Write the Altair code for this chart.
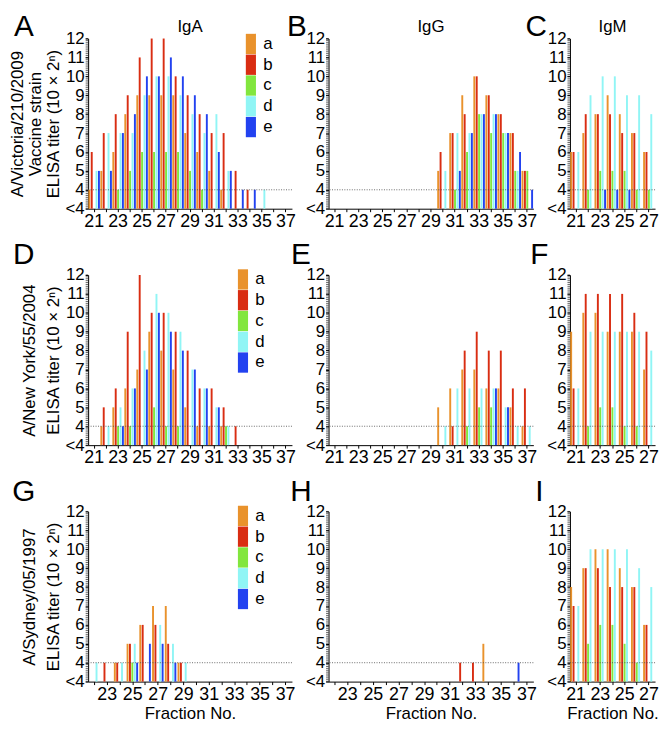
import altair as alt
import pandas as pd

SERIES = ["a", "b", "c", "d", "e"]
COLORS = ["#E9922C", "#D92D12", "#82E63E", "#90F5F5", "#2242F0"]

FRACTIONS_FULL = list(range(21, 38))
FRACTIONS_G = list(range(22, 38))
FRACTIONS_M = list(range(21, 28))

# values are log2 titer exponents; 3 stands for "<4"
# Panel A: IgA, A/Victoria/210/2009 (fractions 21-37)
PANEL_A = {
    "a": [4, 5, 6, 8, 9, 9, 9, 9, 7, 6, 5, 4, 3, 3, 3, 3, 3],
    "b": [6, 7, 8, 9, 11, 12, 12, 10, 9, 8, 7, 7, 5, 4, 3, 3, 3],
    "c": [3, 3, 4, 5, 6, 6, 6, 6, 5, 4, 3, 3, 3, 3, 3, 3, 3],
    "d": [5, 7, 7, 7, 9, 10, 10, 9, 8, 7, 8, 5, 3, 3, 4, 3, 3],
    "e": [5, 5, 7, 8, 10, 10, 11, 10, 9, 8, 6, 5, 4, 4, 3, 3, 3],
}
# Panel B: IgG, A/Victoria/210/2009 (fractions 21-37)
PANEL_B = {
    "a": [3, 3, 3, 3, 3, 3, 3, 3, 3, 5, 7, 9, 10, 9, 8, 7, 5],
    "b": [3, 3, 3, 3, 3, 3, 3, 3, 3, 6, 7, 8, 10, 9, 8, 7, 5],
    "c": [3, 3, 3, 3, 3, 3, 3, 3, 3, 3, 4, 6, 8, 7, 7, 5, 5],
    "d": [3, 3, 3, 3, 3, 3, 3, 3, 3, 5, 7, 7, 8, 8, 7, 5, 3],
    "e": [3, 3, 3, 3, 3, 3, 3, 3, 3, 3, 5, 7, 8, 8, 7, 6, 4],
}
# Panel C: IgM, A/Victoria/210/2009 (fractions 21-27)
PANEL_C = {
    "a": [6, 7, 8, 9, 8, 7, 6],
    "b": [6, 8, 8, 8, 7, 7, 6],
    "c": [3, 4, 5, 5, 5, 4, 4],
    "d": [6, 9, 10, 10, 9, 9, 8],
    "e": [3, 3, 4, 4, 4, 3, 3],
}
# Panel D: IgA, A/New York/55/2004 (fractions 21-37)
PANEL_D = {
    "a": [3, 4, 5, 6, 7, 9, 8, 7, 5, 4, 4, 4, 3, 3, 3, 3, 3],
    "b": [3, 5, 6, 9, 12, 10, 10, 9, 8, 6, 6, 5, 4, 3, 3, 3, 3],
    "c": [3, 3, 4, 4, 3, 5, 4, 4, 3, 3, 3, 4, 3, 3, 3, 3, 3],
    "d": [3, 4, 5, 6, 8, 11, 10, 9, 7, 6, 5, 4, 3, 3, 3, 3, 3],
    "e": [3, 3, 4, 6, 7, 10, 9, 8, 7, 6, 5, 3, 3, 3, 3, 3, 3],
}
# Panel E: IgG, A/New York/55/2004 (fractions 21-37)
PANEL_E = {
    "a": [3, 3, 3, 3, 3, 3, 3, 3, 3, 5, 6, 7, 7, 6, 6, 5, 4],
    "b": [3, 3, 3, 3, 3, 3, 3, 3, 3, 3, 4, 8, 9, 8, 8, 6, 6],
    "c": [3, 3, 3, 3, 3, 3, 3, 3, 3, 3, 3, 4, 5, 5, 3, 3, 3],
    "d": [3, 3, 3, 3, 3, 3, 3, 3, 3, 4, 6, 6, 6, 6, 5, 4, 4],
    "e": [3, 3, 3, 3, 3, 3, 3, 3, 3, 3, 3, 3, 3, 6, 5, 3, 3],
}
# Panel F: IgM, A/New York/55/2004 (fractions 21-27)
PANEL_F = {
    "a": [9, 10, 10, 9, 9, 9, 7],
    "b": [6, 11, 11, 11, 11, 10, 9],
    "c": [3, 4, 5, 5, 4, 4, 3],
    "d": [6, 9, 9, 9, 9, 9, 8],
    "e": [3, 3, 3, 3, 3, 3, 3],
}
# Panel G: IgA, A/Sydney/05/1997 (fractions 22-37)
PANEL_G = {
    "a": [3, 3, 4, 5, 6, 7, 7, 4, 3, 3, 3, 3, 3, 3, 3, 3],
    "b": [3, 4, 4, 5, 6, 6, 5, 4, 3, 3, 3, 3, 3, 3, 3, 3],
    "c": [3, 3, 3, 4, 3, 3, 3, 3, 3, 3, 3, 3, 3, 3, 3, 3],
    "d": [4, 3, 4, 5, 3, 6, 5, 4, 3, 3, 3, 3, 3, 3, 3, 3],
    "e": [3, 3, 3, 4, 5, 5, 4, 3, 3, 3, 3, 3, 3, 3, 3, 3],
}
# Panel H: IgG, A/Sydney/05/1997 (fractions 22-37)
PANEL_H = {
    "a": [3, 3, 3, 3, 3, 3, 3, 3, 3, 3, 3, 3, 5, 3, 3, 3],
    "b": [3, 3, 3, 3, 3, 3, 3, 3, 3, 3, 4, 4, 3, 3, 3, 3],
    "c": [3, 3, 3, 3, 3, 3, 3, 3, 3, 3, 3, 3, 3, 3, 3, 3],
    "d": [3, 3, 3, 3, 3, 3, 3, 3, 3, 3, 3, 3, 3, 3, 3, 3],
    "e": [3, 3, 3, 3, 3, 3, 3, 3, 3, 3, 3, 3, 3, 3, 4, 3],
}
# Panel I: IgM, A/Sydney/05/1997 (fractions 21-27)
PANEL_I = {
    "a": [8, 9, 10, 10, 9, 8, 6],
    "b": [7, 9, 9, 8, 8, 8, 6],
    "c": [3, 5, 6, 6, 5, 4, 3],
    "d": [7, 10, 10, 10, 10, 9, 8],
    "e": [3, 3, 3, 3, 3, 3, 3],
}

YTITLE_A = ["A/Victoria/210/2009", "Vaccine strain", "ELISA titer (10 \u00d7 2\u207f)"]
YTITLE_D = ["A/New York/55/2004", "ELISA titer (10 \u00d7 2\u207f)"]
YTITLE_G = ["A/Sydney/05/1997", "ELISA titer (10 \u00d7 2\u207f)"]
Y_LABEL_TICKS = [3, 4, 5, 6, 7, 8, 9, 10, 11, 12]
Y_MINOR_TICKS = [round(3 + i * 0.1, 1) for i in range(91)]

FONT = "Liberation Sans"
H = 172


def make_panel(fracs, vals, letter, width, letter_dx, letter_dy,
               title=None, ytitle=None, legend_xy=None, xtitle=None, title_lh=18):
    recs = [{"fraction": f, "series": s, "titer": v}
            for s in SERIES for f, v in zip(fracs, vals[s])]
    df = pd.DataFrame(recs)

    xaxis_kw = dict(labelAngle=0,
                    labelExpr="datum.value % 2 == 1 ? datum.label : ''",
                    labelFontSize=18, labelPadding=1, tickSize=3,
                    tickColor="black", domainColor="black", labelColor="black",
                    labelOverlap=False, titleFontSize=17,
                    titleFontWeight="normal", titlePadding=2, titleColor="black")
    xaxis = alt.Axis(title=xtitle, **xaxis_kw) if xtitle else alt.Axis(title=None, **xaxis_kw)

    yaxis_kw = dict(values=Y_LABEL_TICKS,
                    labelExpr="datum.value == 3 ? '<4' : datum.label",
                    labelOverlap=False, labelFontSize=17, labelPadding=1,
                    labelBaseline="middle",
                    tickSize=3, tickWidth=1, tickColor="black",
                    domainColor="black", labelColor="black", grid=False,
                    titleFontSize=17, titleFontWeight="normal",
                    titleLineHeight=title_lh, titlePadding=3, titleColor="black")
    yaxis = alt.Axis(title=ytitle, **yaxis_kw) if ytitle else alt.Axis(title=None, **yaxis_kw)
    yscale = alt.Scale(domain=[3, 12], nice=False, zero=False)

    if legend_xy:
        legend = alt.Legend(orient="none", legendX=legend_xy[0], legendY=legend_xy[1],
                            direction="vertical", title=None,
                            symbolType="M-0.5,-1H0.5V1H-0.5Z", symbolSize=420,
                            symbolStrokeWidth=0, symbolOpacity=1,
                            labelFontSize=17, labelOffset=2, rowPadding=0,
                            padding=0, labelColor="black")
    else:
        legend = None

    bars = alt.Chart(df).transform_filter("datum.titer > 3").mark_bar().encode(
        x=alt.X("fraction:O", scale=alt.Scale(domain=fracs, paddingInner=0, paddingOuter=0), axis=xaxis),
        xOffset=alt.XOffset("series:N", scale=alt.Scale(domain=SERIES, paddingInner=0.2, paddingOuter=0.1)),
        y=alt.Y("titer:Q", scale=yscale, axis=yaxis),
        y2=alt.datum(3),
        color=alt.Color("series:N", scale=alt.Scale(domain=SERIES, range=COLORS), legend=legend),
    )

    minor = alt.Chart(pd.DataFrame({"titer": Y_MINOR_TICKS})).mark_rule(
        color="black", strokeWidth=0.6
    ).encode(y=alt.Y("titer:Q", scale=yscale, axis=yaxis), x=alt.value(-2.5), x2=alt.value(0))

    rule = alt.Chart(pd.DataFrame({"titer": [4]})).mark_rule(
        strokeDash=[1, 1.5], color="#444444", strokeWidth=0.8
    ).encode(y=alt.Y("titer:Q", scale=yscale, axis=yaxis))

    lab = alt.Chart(pd.DataFrame({"t": [letter]})).mark_text(
        fontSize=30, align="center", baseline="top", color="black", font=FONT
    ).encode(text="t:N", x=alt.value(letter_dx), y=alt.value(letter_dy))

    layers = [bars, minor, rule, lab]
    if title:
        ttl = alt.Chart(pd.DataFrame({"t": [title]})).mark_text(
            fontSize=17, align="center", baseline="alphabetic", color="black", font=FONT
        ).encode(text="t:N", x=alt.value(width / 2), y=alt.value(-7))
        layers.append(ttl)
    return alt.layer(*layers).properties(width=width, height=H)


W1, W2, W3 = 206, 207, 86
TOP1, TOP2 = -27, -35
pA = make_panel(FRACTIONS_FULL, PANEL_A, "A", W1, -65, TOP1, title="IgA", ytitle=YTITLE_A, legend_xy=(154, -5))
pB = make_panel(FRACTIONS_FULL, PANEL_B, "B", W2, -32, TOP1, title="IgG")
pC = make_panel(FRACTIONS_M, PANEL_C, "C", W3, -34, TOP1, title="IgM")
pD = make_panel(FRACTIONS_FULL, PANEL_D, "D", W1, -65, TOP2, ytitle=YTITLE_D, legend_xy=(146, -6), title_lh=24)
pE = make_panel(FRACTIONS_FULL, PANEL_E, "E", W2, -28, TOP2)
pF = make_panel(FRACTIONS_M, PANEL_F, "F", W3, -31, TOP2)
pG = make_panel(FRACTIONS_G, PANEL_G, "G", W1, -65, TOP2, ytitle=YTITLE_G, legend_xy=(146, -6), xtitle="Fraction No.", title_lh=24)
pH = make_panel(FRACTIONS_G, PANEL_H, "H", W2, -28, TOP2, xtitle="Fraction No.")
pI = make_panel(FRACTIONS_M, PANEL_I, "I", W3, -31, TOP2, xtitle="Fraction No.")

chart = alt.concat(pA, pB, pC, pD, pE, pF, pG, pH, pI, columns=3).properties(
    spacing={"row": 67, "column": 37}, bounds="flush", align="each", padding=0
).resolve_scale(color="independent").resolve_legend(color="independent").configure(
    font=FONT).configure_view(stroke=None).configure_axis(labelOverlap=False)

chart.save("out.html", embed_options={"renderer": "svg", "actions": False})
